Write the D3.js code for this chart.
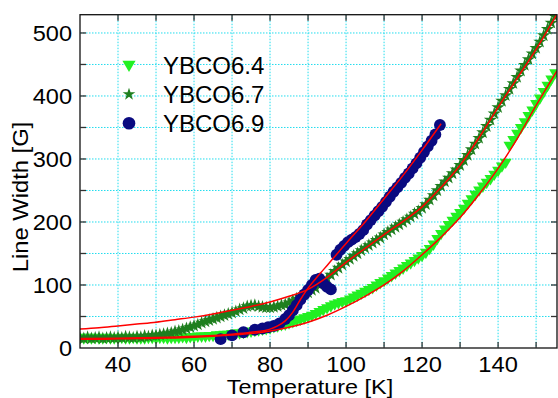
<!DOCTYPE html>
<html><head><meta charset="utf-8">
<script src="https://cdn.jsdelivr.net/npm/d3@7"></script>
<style>body{margin:0;background:#fff}svg{display:block}text{font-family:"Liberation Sans",Arial,Helvetica,sans-serif;fill:#000}</style>
</head><body><svg id="c" width="558" height="398"></svg>
<script>
// ---- data ----
const seriesNames = ["YBCO6.4", "YBCO6.7", "YBCO6.9"];
const seriesColors = ["#22f022", "#1f7f1f", "#0a0a80"];

const t64 = [30,31,32,33,34,35,36,37,38,39,40,41,42,43,44,45,46,47,48,49,50,51,52,53,54,55,56,57,58,59,60,61,62,63,64,65,66,67,68,69,70,71,72,73,74,75,76,77,78,79,80,81,82,83,84,85,86,87,88,89,90,91,92,93,94,95,96,97,98,99,100,101,102,103,104,105,106,107,108,109,110,111,112,113,114,115,116,117,118,119,120,121,122,123,124,125,126,127,128,129,130,131,132,133,134,135,136,137,138,139,140,141,142,143,144,145,146,147,148,149,150,151,152,153,154,155];
const w64 = [17,16,17,16,17,16,16,17,16,16,
  16,17,16,16,17,16,16,16,17,17,
  16,17,17,16,17,17,17,18,17,18,
  18,19,19,19,20,20,21,21,22,22,
  23,24,24,25,26,27,28,29,30,31,
  32,34,35,37,38,40,42,44,46,48,
  50,52,55,58,61,64,67,70,72,74,
  75,78,81,84,87,90,93,96,100,104,
  107,111,115,119,123,127,131,135,139,143,
  147,152,158,165,174,182,189,196,203,209,
  215,222,230,237,244,251,257,263,269,276,
  282,289,295,322,331,341,350,359,369,378,
  388,397,407,417,427,437];

const t67 = t64;
const w67 = [16,15,17,15,16,17,15,16,17,16,
  17,16,18,17,16,18,17,19,18,20,
  20,21,22,23,24,26,27,29,31,33,
  35,37,40,42,44,46,48,50,52,54,
  56,58,61,63,66,67,68,66,65,64,
  64,65,66,68,69,72,75,78,81,85,
  88,92,95,100,104,110,116,122,127,132,
  137,141,146,150,155,159,163,167,171,175,
  180,184,188,192,196,200,204,208,213,217,
  222,228,235,242,250,257,264,270,277,283,
  290,298,306,315,324,333,342,352,362,372,
  382,392,401,411,420,430,440,449,458,467,
  476,486,496,506,516,526];

const t69 = [67,70,73,76,78,79.5,81,82.5,84,85,86,87,88,89,90,91,92,93,94,95,96,97.5,98.5,99.5,100.5,101.5,102.5,103.5,104.5,105.5,106.5,107.5,108.5,109.5,110.5,111.5,112.5,113.5,114.5,115.5,116.5,117.5,118.5,119.5,120.5,121.5,122.5,123.5,124.7];
const w69 = [14,20,25,29,31,33,35,39,46,52,60,68,77,85,92,100,108,110,103,97,93,148,156,162,168,172,176,181,187,196,203,210,217,224,232,240,248,255,262,270,277,285,293,302,311,320,329,339,354];

// fit curves (red)
const fitT = [30,35,40,45,50,55,60,65,70,75,80,85,90,95,100,105,110,115,120,125,130,135,140,145,150,155.5];
const fit64 = [14,14,14.5,15,15.5,16,17,18.5,20.5,23,27,33,41,52,66,82,100,122,148,176,207,244,285,332,385,440];
const fit67 = [30,32,35,38,41,45,49,54,60,66,73,82,93,112,136,158,180,201,224,255,290,334,382,428,474,530];
const fit69T = [30,40,50,60,65,70,75,80,82,84,86,88,90,92,94,96,98,100,105,110,115,120,125];
const fit69 = [15,15.5,16.5,18.5,20,22,25,30,35,43,57,77,95,110,124,138,152,166,200,237,274,314,356];

const xTicks = [40,60,80,100,120,140];
const yTicks = [0,100,200,300,400,500];
const xGrid = [40,50,60,70,80,90,100,110,120,130,140,150];
const yGrid = [50,100,150,200,250,300,350,400,450,500];

// ---- drawing ----
const L=80, R=557, T=14.7, B=348;
const x = d3.scaleLinear().domain([30,155.5]).range([L,R]);
const y = d3.scaleLinear().domain([0,529]).range([B,T]);
const svg = d3.select("#c");

svg.append("defs").append("clipPath").attr("id","clip")
  .append("rect").attr("x",L).attr("y",T).attr("width",R-L).attr("height",B-T);

// grid
const g = svg.append("g");
g.selectAll(".gx").data(xGrid).join("line")
  .attr("x1",d=>x(d)).attr("x2",d=>x(d)).attr("y1",T).attr("y2",B)
  .attr("stroke","#22ddee").attr("stroke-width",1).attr("stroke-dasharray","1.5,1.5");
g.selectAll(".gy").data(yGrid).join("line")
  .attr("y1",d=>y(d)).attr("y2",d=>y(d)).attr("x1",L).attr("x2",R)
  .attr("stroke","#22ddee").attr("stroke-width",1).attr("stroke-dasharray","1.5,1.5");

const plot = svg.append("g").attr("clip-path","url(#clip)");

function drawSeries(ts, ws, sym, size, color, rot) {
  plot.append("g").selectAll("path").data(ts.map((t,i)=>[t,ws[i]])).join("path")
    .attr("d", d3.symbol().type(sym).size(size)())
    .attr("transform", d=>`translate(${x(d[0])},${y(d[1])})` + (rot?" rotate(180)":""))
    .attr("fill", color);
}
drawSeries(t64, w64, d3.symbolTriangle, 62, seriesColors[0], true);
drawSeries(t67, w67, d3.symbolStar, 55, seriesColors[1], false);
drawSeries(t69, w69, d3.symbolCircle, 110, seriesColors[2], false);

const line = d3.line().x(d=>x(d[0])).y(d=>y(d[1])).curve(d3.curveMonotoneX);
[[fitT,fit64],[fitT,fit67],[fit69T,fit69]].forEach(([ts,ws])=>{
  plot.append("path").datum(ts.map((t,i)=>[t,ws[i]]))
    .attr("d", line).attr("fill","none").attr("stroke","#ff0000").attr("stroke-width",1.5);
});

// frame
svg.append("rect").attr("x",L).attr("y",T).attr("width",R-L).attr("height",B-T)
  .attr("fill","none").attr("stroke","#111").attr("stroke-width",1.3);

// inward ticks
const tk = svg.append("g").attr("stroke","#333").attr("stroke-width",1.3);
xGrid.forEach(v=>{
  tk.append("line").attr("x1",x(v)).attr("x2",x(v)).attr("y1",B).attr("y2",B-6);
  tk.append("line").attr("x1",x(v)).attr("x2",x(v)).attr("y1",T).attr("y2",T+6);
});
yGrid.forEach(v=>{
  tk.append("line").attr("y1",y(v)).attr("y2",y(v)).attr("x1",L).attr("x2",L+6);
  tk.append("line").attr("y1",y(v)).attr("y2",y(v)).attr("x1",R).attr("x2",R-6);
});

// tick labels
svg.append("g").selectAll("text").data(xTicks).join("text")
  .attr("transform", d=>`translate(${x(d)},371.5) scale(1.1,1)`)
  .attr("text-anchor","middle").attr("font-size",21.5).text(d=>d);
svg.append("g").selectAll("text").data(yTicks).join("text")
  .attr("transform", d=>`translate(72,${y(d)+7.8}) scale(1.07,1)`)
  .attr("text-anchor","end").attr("font-size",22).text(d=>d);

// axis titles
svg.append("text").attr("transform","translate(310,393.8) scale(1.2,1)")
  .attr("text-anchor","middle").attr("font-size",19.5).text("Temperature [K]");
svg.append("text").attr("transform","translate(28,197) rotate(-90) scale(1.08,1)")
  .attr("text-anchor","middle").attr("font-size",22).text("Line Width [G]");

// legend
const legSyms = [d3.symbolTriangle, d3.symbolStar, d3.symbolCircle];
const legSizes = [75, 50, 125];
const legY = [64.5, 94.3, 123.3];
const legBase = [73.5, 102.5, 131.5];
seriesNames.forEach((n,i)=>{
  svg.append("path").attr("d", d3.symbol().type(legSyms[i]).size(legSizes[i])())
    .attr("transform", `translate(129,${legY[i]})` + (i===0?" rotate(180)":""))
    .attr("fill", seriesColors[i]);
  svg.append("text").attr("x",163).attr("y",legBase[i]).attr("font-size",24).text(n);
});
</script></body></html>
